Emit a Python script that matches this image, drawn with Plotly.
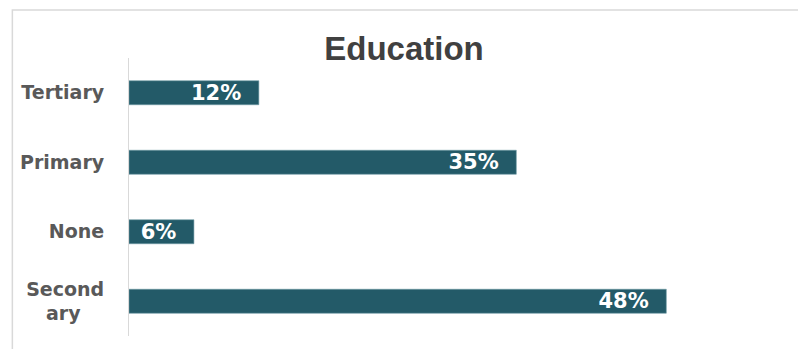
import plotly.graph_objects as go

categories = ["Tertiary", "Primary", "None", "Second<br>ary\u00a0\u00a0\u00a0\u2009"]
shares = [0.116, 0.346, 0.058, 0.480]
title_text = "Education"

bar_color = "#235A68"

# the page body adds an 8px offset; figure sized to fit the window
W, H = 798, 341
L, R, T, B = 119, 30, 50, 13
pw, ph = W - L - R, H - T - B

fig = go.Figure(
    go.Bar(
        y=categories,
        x=shares,
        orientation="h",
        marker=dict(color=bar_color, line=dict(color="#6f9aa5", width=0.6)),
        texttemplate="%{x:.0%}\u00a0\u00a0",
        textposition="inside",
        insidetextanchor="end",
        constraintext="none",
        textfont=dict(family="DejaVu Sans", size=21, color="white", weight="bold"),
        hoverinfo="skip",
    )
)

fig.update_layout(
    width=W,
    height=H,
    margin=dict(l=L, r=R, t=T, b=B),
    paper_bgcolor="white",
    plot_bgcolor="white",
    showlegend=False,
    bargap=0.655,
    title=dict(
        text="<b>" + title_text + "</b>",
        x=(404 - 8) / W,
        xanchor="center",
        xref="container",
        y=1 - 40 / H,
        yref="container",
        yanchor="middle",
        font=dict(family="Liberation Sans", size=33, color="#404040"),
    ),
    xaxis=dict(
        range=[0, 0.578],
        showgrid=False,
        zeroline=False,
        showticklabels=False,
        showline=False,
        fixedrange=True,
    ),
    yaxis=dict(
        autorange="reversed",
        showgrid=False,
        zeroline=False,
        showline=True,
        linecolor="#d9d9d9",
        linewidth=1,
        ticks="",
        ticklabelstandoff=20,
        tickfont=dict(family="DejaVu Sans", size=19, color="#595959", weight="bold"),
    ),
    shapes=[
        dict(
            type="rect",
            xref="paper",
            yref="paper",
            x0=(2 - L) / pw,
            x1=(794 - L) / pw,
            y0=-30 / ph,
            y1=(ph + T - 2) / ph,
            line=dict(color="#d9d9d9", width=1.5),
            fillcolor="rgba(0,0,0,0)",
            layer="below",
        )
    ],
)

fig.write_html("out.html")
